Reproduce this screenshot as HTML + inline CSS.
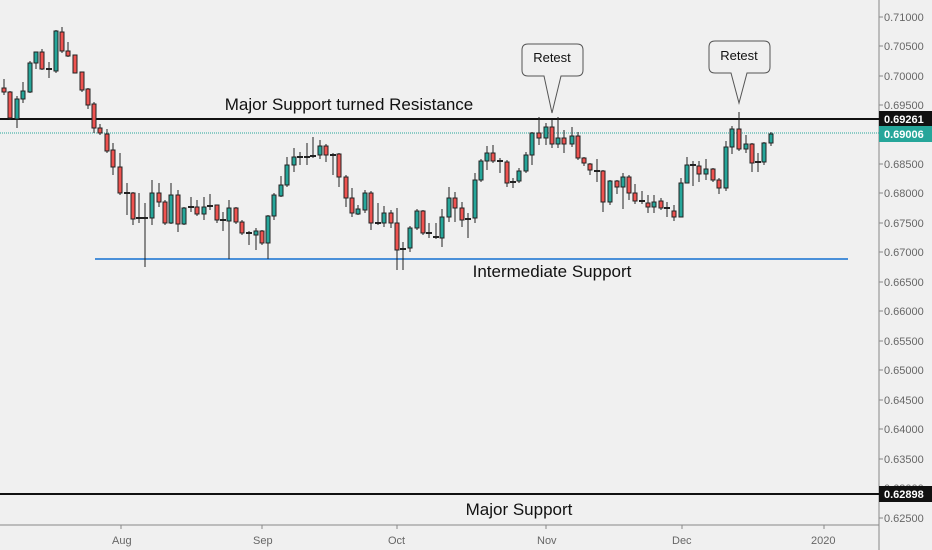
<!DOCTYPE html>
<html><head><meta charset="utf-8"><style>
body{margin:0;background:#f0f0f0;}
svg{display:block;font-family:"Liberation Sans",sans-serif;}
.w{stroke:#222;stroke-width:1}
.g{fill:#26a69a;stroke:#222;stroke-width:1}
.r{fill:#ef5350;stroke:#222;stroke-width:1}
.d{fill:#222}
.ax{fill:#666;font-size:11px}
</style></head><body>
<svg width="932" height="550" viewBox="0 0 932 550">
<rect width="932" height="550" fill="#f0f0f0"/>
<!-- axes -->
<line x1="879" y1="0" x2="879" y2="550" stroke="#888"/>
<line x1="0" y1="525" x2="879" y2="525" stroke="#888"/>
<g class="ax">
<text x="884" y="21">0.71000</text><text x="884" y="50">0.70500</text><text x="884" y="80">0.70000</text><text x="884" y="109">0.69500</text>
<text x="884" y="168">0.68500</text><text x="884" y="197">0.68000</text><text x="884" y="227">0.67500</text><text x="884" y="256">0.67000</text>
<text x="884" y="286">0.66500</text><text x="884" y="315">0.66000</text><text x="884" y="345">0.65500</text><text x="884" y="374">0.65000</text>
<text x="884" y="404">0.64500</text><text x="884" y="433">0.64000</text><text x="884" y="463">0.63500</text><text x="884" y="492">0.63000</text>
<text x="884" y="522">0.62500</text>
<text x="112" y="544">Aug</text><text x="253" y="544">Sep</text><text x="388" y="544">Oct</text><text x="537" y="544">Nov</text><text x="672" y="544">Dec</text><text x="811" y="544">2020</text>
</g>
<g stroke="#888">
<line x1="879" y1="17" x2="883" y2="17"/><line x1="879" y1="46" x2="883" y2="46"/><line x1="879" y1="76" x2="883" y2="76"/><line x1="879" y1="105" x2="883" y2="105"/><line x1="879" y1="164" x2="883" y2="164"/><line x1="879" y1="193" x2="883" y2="193"/><line x1="879" y1="223" x2="883" y2="223"/><line x1="879" y1="252" x2="883" y2="252"/><line x1="879" y1="282" x2="883" y2="282"/><line x1="879" y1="311" x2="883" y2="311"/><line x1="879" y1="341" x2="883" y2="341"/><line x1="879" y1="370" x2="883" y2="370"/><line x1="879" y1="400" x2="883" y2="400"/><line x1="879" y1="429" x2="883" y2="429"/><line x1="879" y1="459" x2="883" y2="459"/><line x1="879" y1="488" x2="883" y2="488"/><line x1="879" y1="518" x2="883" y2="518"/>
<line x1="121" y1="525" x2="121" y2="529"/><line x1="262" y1="525" x2="262" y2="529"/><line x1="397" y1="525" x2="397" y2="529"/><line x1="546" y1="525" x2="546" y2="529"/><line x1="682" y1="525" x2="682" y2="529"/><line x1="824" y1="525" x2="824" y2="529"/>
</g>
<!-- levels -->
<line x1="0" y1="133" x2="879" y2="133" stroke="#26a69a" stroke-width="1" stroke-dasharray="1,1"/>
<line x1="0" y1="119" x2="879" y2="119" stroke="#111" stroke-width="2"/>
<line x1="95" y1="259" x2="848" y2="259" stroke="#4a90d9" stroke-width="2"/>
<line x1="0" y1="494" x2="879" y2="494" stroke="#111" stroke-width="2"/>
<rect x="879" y="111" width="53" height="16" fill="#111"/><text x="884" y="123" fill="#fff" font-size="11" font-weight="bold">0.69261</text>
<rect x="879" y="126" width="53" height="16" fill="#26a69a"/><text x="884" y="138" fill="#fff" font-size="11" font-weight="bold">0.69006</text>
<rect x="879" y="486" width="53" height="16" fill="#111"/><text x="884" y="498" fill="#fff" font-size="11" font-weight="bold">0.62898</text>
<!-- text -->
<text x="349" y="110" font-size="17" text-anchor="middle" fill="#111">Major Support turned Resistance</text>
<text x="552" y="277" font-size="17" text-anchor="middle" fill="#111">Intermediate Support</text>
<text x="519" y="515" font-size="17" text-anchor="middle" fill="#111">Major Support</text>
<!-- callouts -->
<path d="M528,44 H577 Q583,44 583,50 V70 Q583,76 577,76 H561 L552,113 L544,76 H528 Q522,76 522,70 V50 Q522,44 528,44 Z" fill="#f0f0f0" stroke="#555"/>
<text x="552" y="62" font-size="13" text-anchor="middle" fill="#111">Retest</text>
<path d="M715,41 H764 Q770,41 770,47 V67 Q770,73 764,73 H747 L739,103 L731,73 H715 Q709,73 709,67 V47 Q709,41 715,41 Z" fill="#f0f0f0" stroke="#555"/>
<text x="739" y="60" font-size="13" text-anchor="middle" fill="#111">Retest</text>
<!-- candles -->
<g>
<line class="w" x1="4" y1="79" x2="4" y2="95"/><rect class="r" x="2" y="88" width="4" height="4"/>
<line class="w" x1="10" y1="91" x2="10" y2="120"/><rect class="r" x="8" y="92" width="4" height="26"/>
<line class="w" x1="17" y1="96" x2="17" y2="128"/><rect class="g" x="15" y="99" width="4" height="20"/>
<line class="w" x1="23" y1="82" x2="23" y2="103"/><rect class="g" x="21" y="91" width="4" height="8"/>
<line class="w" x1="30" y1="61" x2="30" y2="93"/><rect class="g" x="28" y="63" width="4" height="29"/>
<line class="w" x1="36" y1="52" x2="36" y2="69"/><rect class="g" x="34" y="52" width="4" height="11"/>
<line class="w" x1="42" y1="49" x2="42" y2="70"/><rect class="r" x="40" y="52" width="4" height="17"/>
<line class="w" x1="49" y1="62" x2="49" y2="78"/><rect class="d" x="46" y="68" width="6" height="2"/>
<line class="w" x1="56" y1="30" x2="56" y2="73"/><rect class="g" x="54" y="31" width="4" height="40"/>
<line class="w" x1="62" y1="27" x2="62" y2="53"/><rect class="r" x="60" y="32" width="4" height="19"/>
<line class="w" x1="68" y1="42" x2="68" y2="57"/><rect class="r" x="66" y="51" width="4" height="5"/>
<line class="w" x1="75" y1="55" x2="75" y2="73"/><rect class="r" x="73" y="55" width="4" height="18"/>
<line class="w" x1="82" y1="72" x2="82" y2="92"/><rect class="r" x="80" y="72" width="4" height="18"/>
<line class="w" x1="88" y1="88" x2="88" y2="109"/><rect class="r" x="86" y="89" width="4" height="16"/>
<line class="w" x1="94" y1="102" x2="94" y2="133"/><rect class="r" x="92" y="104" width="4" height="24"/>
<line class="w" x1="100" y1="124" x2="100" y2="135"/><rect class="r" x="98" y="128" width="4" height="5"/>
<line class="w" x1="107" y1="129" x2="107" y2="153"/><rect class="r" x="105" y="134" width="4" height="17"/>
<line class="w" x1="113" y1="143" x2="113" y2="175"/><rect class="r" x="111" y="150" width="4" height="17"/>
<line class="w" x1="120" y1="153" x2="120" y2="195"/><rect class="r" x="118" y="167" width="4" height="26"/>
<line class="w" x1="127" y1="183" x2="127" y2="215"/><rect class="d" x="124" y="192" width="6" height="2"/>
<line class="w" x1="133" y1="192" x2="133" y2="225"/><rect class="r" x="131" y="193" width="4" height="26"/>
<line class="w" x1="139" y1="193" x2="139" y2="223"/><rect class="d" x="136" y="217" width="6" height="2"/>
<line class="w" x1="145" y1="203" x2="145" y2="267"/><rect class="d" x="142" y="217" width="6" height="2"/>
<line class="w" x1="152" y1="180" x2="152" y2="225"/><rect class="g" x="150" y="193" width="4" height="25"/>
<line class="w" x1="159" y1="183" x2="159" y2="207"/><rect class="r" x="157" y="193" width="4" height="9"/>
<line class="w" x1="165" y1="200" x2="165" y2="225"/><rect class="r" x="163" y="202" width="4" height="21"/>
<line class="w" x1="171" y1="183" x2="171" y2="224"/><rect class="g" x="169" y="195" width="4" height="28"/>
<line class="w" x1="178" y1="190" x2="178" y2="232"/><rect class="r" x="176" y="195" width="4" height="29"/>
<line class="w" x1="184" y1="207" x2="184" y2="225"/><rect class="g" x="182" y="208" width="4" height="16"/>
<line class="w" x1="191" y1="197" x2="191" y2="212"/><rect class="d" x="188" y="206" width="6" height="2"/>
<line class="w" x1="197" y1="200" x2="197" y2="216"/><rect class="r" x="195" y="207" width="4" height="7"/>
<line class="w" x1="204" y1="197" x2="204" y2="220"/><rect class="g" x="202" y="207" width="4" height="7"/>
<line class="w" x1="210" y1="194" x2="210" y2="210"/><rect class="d" x="207" y="205" width="6" height="2"/>
<line class="w" x1="217" y1="205" x2="217" y2="223"/><rect class="r" x="215" y="205" width="4" height="15"/>
<line class="w" x1="223" y1="212" x2="223" y2="231"/><rect class="d" x="220" y="219" width="6" height="2"/>
<line class="w" x1="229" y1="200" x2="229" y2="259"/><rect class="g" x="227" y="208" width="4" height="13"/>
<line class="w" x1="236" y1="207" x2="236" y2="224"/><rect class="r" x="234" y="208" width="4" height="14"/>
<line class="w" x1="242" y1="220" x2="242" y2="235"/><rect class="r" x="240" y="222" width="4" height="11"/>
<line class="w" x1="249" y1="231" x2="249" y2="245"/><rect class="d" x="246" y="232" width="6" height="2"/>
<line class="w" x1="256" y1="228" x2="256" y2="250"/><rect class="g" x="254" y="231" width="4" height="4"/>
<line class="w" x1="262" y1="230" x2="262" y2="245"/><rect class="r" x="260" y="231" width="4" height="12"/>
<line class="w" x1="268" y1="215" x2="268" y2="259"/><rect class="g" x="266" y="216" width="4" height="27"/>
<line class="w" x1="274" y1="193" x2="274" y2="220"/><rect class="g" x="272" y="195" width="4" height="21"/>
<line class="w" x1="281" y1="176" x2="281" y2="197"/><rect class="g" x="279" y="185" width="4" height="11"/>
<line class="w" x1="287" y1="157" x2="287" y2="187"/><rect class="g" x="285" y="165" width="4" height="20"/>
<line class="w" x1="294" y1="148" x2="294" y2="172"/><rect class="g" x="292" y="157" width="4" height="8"/>
<line class="w" x1="300" y1="152" x2="300" y2="165"/><rect class="d" x="297" y="156" width="6" height="2"/>
<line class="w" x1="307" y1="143" x2="307" y2="165"/><rect class="d" x="304" y="156" width="6" height="2"/>
<line class="w" x1="313" y1="137" x2="313" y2="158"/><rect class="d" x="310" y="155" width="6" height="2"/>
<line class="w" x1="320" y1="140" x2="320" y2="159"/><rect class="g" x="318" y="146" width="4" height="9"/>
<line class="w" x1="326" y1="144" x2="326" y2="162"/><rect class="r" x="324" y="146" width="4" height="9"/>
<line class="w" x1="333" y1="153" x2="333" y2="175"/><rect class="d" x="330" y="154" width="6" height="2"/>
<line class="w" x1="339" y1="153" x2="339" y2="187"/><rect class="r" x="337" y="154" width="4" height="23"/>
<line class="w" x1="346" y1="175" x2="346" y2="207"/><rect class="r" x="344" y="177" width="4" height="21"/>
<line class="w" x1="352" y1="188" x2="352" y2="217"/><rect class="r" x="350" y="198" width="4" height="15"/>
<line class="w" x1="358" y1="205" x2="358" y2="215"/><rect class="g" x="356" y="209" width="4" height="5"/>
<line class="w" x1="365" y1="190" x2="365" y2="213"/><rect class="g" x="363" y="193" width="4" height="17"/>
<line class="w" x1="371" y1="191" x2="371" y2="230"/><rect class="r" x="369" y="193" width="4" height="30"/>
<line class="w" x1="378" y1="203" x2="378" y2="225"/><rect class="d" x="375" y="222" width="6" height="2"/>
<line class="w" x1="384" y1="206" x2="384" y2="227"/><rect class="g" x="382" y="213" width="4" height="10"/>
<line class="w" x1="391" y1="210" x2="391" y2="228"/><rect class="r" x="389" y="213" width="4" height="10"/>
<line class="w" x1="397" y1="208" x2="397" y2="270"/><rect class="r" x="395" y="223" width="4" height="27"/>
<line class="w" x1="403" y1="242" x2="403" y2="270"/><rect class="d" x="400" y="248" width="6" height="2"/>
<line class="w" x1="410" y1="226" x2="410" y2="252"/><rect class="g" x="408" y="228" width="4" height="20"/>
<line class="w" x1="417" y1="209" x2="417" y2="230"/><rect class="g" x="415" y="211" width="4" height="17"/>
<line class="w" x1="423" y1="210" x2="423" y2="235"/><rect class="r" x="421" y="211" width="4" height="22"/>
<line class="w" x1="429" y1="223" x2="429" y2="238"/><rect class="d" x="426" y="232" width="6" height="2"/>
<line class="w" x1="436" y1="223" x2="436" y2="239"/><rect class="d" x="433" y="236" width="6" height="2"/>
<line class="w" x1="442" y1="209" x2="442" y2="247"/><rect class="g" x="440" y="217" width="4" height="21"/>
<line class="w" x1="449" y1="187" x2="449" y2="222"/><rect class="g" x="447" y="198" width="4" height="19"/>
<line class="w" x1="455" y1="192" x2="455" y2="222"/><rect class="r" x="453" y="198" width="4" height="10"/>
<line class="w" x1="462" y1="202" x2="462" y2="227"/><rect class="r" x="460" y="208" width="4" height="12"/>
<line class="w" x1="468" y1="213" x2="468" y2="238"/><rect class="d" x="465" y="218" width="6" height="2"/>
<line class="w" x1="475" y1="173" x2="475" y2="223"/><rect class="g" x="473" y="180" width="4" height="38"/>
<line class="w" x1="481" y1="159" x2="481" y2="182"/><rect class="g" x="479" y="161" width="4" height="19"/>
<line class="w" x1="487" y1="146" x2="487" y2="170"/><rect class="g" x="485" y="153" width="4" height="8"/>
<line class="w" x1="493" y1="145" x2="493" y2="163"/><rect class="r" x="491" y="153" width="4" height="8"/>
<line class="w" x1="500" y1="158" x2="500" y2="173"/><rect class="d" x="497" y="160" width="6" height="2"/>
<line class="w" x1="507" y1="160" x2="507" y2="187"/><rect class="r" x="505" y="162" width="4" height="21"/>
<line class="w" x1="513" y1="178" x2="513" y2="188"/><rect class="d" x="510" y="181" width="6" height="2"/>
<line class="w" x1="519" y1="168" x2="519" y2="183"/><rect class="g" x="517" y="171" width="4" height="10"/>
<line class="w" x1="526" y1="152" x2="526" y2="173"/><rect class="g" x="524" y="155" width="4" height="16"/>
<line class="w" x1="532" y1="132" x2="532" y2="165"/><rect class="g" x="530" y="133" width="4" height="22"/>
<line class="w" x1="539" y1="117" x2="539" y2="145"/><rect class="r" x="537" y="133" width="4" height="5"/>
<line class="w" x1="546" y1="123" x2="546" y2="145"/><rect class="g" x="544" y="127" width="4" height="11"/>
<line class="w" x1="552" y1="120" x2="552" y2="148"/><rect class="r" x="550" y="127" width="4" height="17"/>
<line class="w" x1="558" y1="117" x2="558" y2="148"/><rect class="g" x="556" y="138" width="4" height="6"/>
<line class="w" x1="564" y1="130" x2="564" y2="153"/><rect class="r" x="562" y="138" width="4" height="6"/>
<line class="w" x1="572" y1="127" x2="572" y2="147"/><rect class="g" x="570" y="136" width="4" height="8"/>
<line class="w" x1="578" y1="132" x2="578" y2="160"/><rect class="r" x="576" y="136" width="4" height="22"/>
<line class="w" x1="584" y1="157" x2="584" y2="166"/><rect class="r" x="582" y="158" width="4" height="5"/>
<line class="w" x1="590" y1="163" x2="590" y2="175"/><rect class="r" x="588" y="164" width="4" height="6"/>
<line class="w" x1="597" y1="159" x2="597" y2="182"/><rect class="d" x="594" y="170" width="6" height="2"/>
<line class="w" x1="603" y1="170" x2="603" y2="212"/><rect class="r" x="601" y="171" width="4" height="31"/>
<line class="w" x1="610" y1="180" x2="610" y2="205"/><rect class="g" x="608" y="181" width="4" height="21"/>
<line class="w" x1="617" y1="180" x2="617" y2="194"/><rect class="r" x="615" y="181" width="4" height="6"/>
<line class="w" x1="623" y1="173" x2="623" y2="209"/><rect class="g" x="621" y="177" width="4" height="10"/>
<line class="w" x1="629" y1="175" x2="629" y2="200"/><rect class="r" x="627" y="177" width="4" height="16"/>
<line class="w" x1="635" y1="184" x2="635" y2="204"/><rect class="r" x="633" y="193" width="4" height="8"/>
<line class="w" x1="642" y1="191" x2="642" y2="204"/><rect class="d" x="639" y="200" width="6" height="2"/>
<line class="w" x1="648" y1="195" x2="648" y2="213"/><rect class="r" x="646" y="203" width="4" height="4"/>
<line class="w" x1="654" y1="195" x2="654" y2="213"/><rect class="g" x="652" y="202" width="4" height="5"/>
<line class="w" x1="661" y1="198" x2="661" y2="210"/><rect class="r" x="659" y="201" width="4" height="7"/>
<line class="w" x1="667" y1="202" x2="667" y2="217"/><rect class="d" x="664" y="207" width="6" height="2"/>
<line class="w" x1="674" y1="205" x2="674" y2="221"/><rect class="r" x="672" y="211" width="4" height="6"/>
<line class="w" x1="681" y1="178" x2="681" y2="217"/><rect class="g" x="679" y="183" width="4" height="34"/>
<line class="w" x1="687" y1="157" x2="687" y2="183"/><rect class="g" x="685" y="165" width="4" height="18"/>
<line class="w" x1="693" y1="161" x2="693" y2="186"/><rect class="d" x="690" y="164" width="6" height="2"/>
<line class="w" x1="699" y1="161" x2="699" y2="182"/><rect class="r" x="697" y="166" width="4" height="8"/>
<line class="w" x1="706" y1="159" x2="706" y2="180"/><rect class="g" x="704" y="169" width="4" height="5"/>
<line class="w" x1="713" y1="168" x2="713" y2="182"/><rect class="r" x="711" y="169" width="4" height="11"/>
<line class="w" x1="719" y1="178" x2="719" y2="194"/><rect class="r" x="717" y="180" width="4" height="8"/>
<line class="w" x1="726" y1="141" x2="726" y2="191"/><rect class="g" x="724" y="147" width="4" height="41"/>
<line class="w" x1="732" y1="126" x2="732" y2="154"/><rect class="g" x="730" y="129" width="4" height="18"/>
<line class="w" x1="739" y1="112" x2="739" y2="151"/><rect class="r" x="737" y="129" width="4" height="20"/>
<line class="w" x1="746" y1="135" x2="746" y2="153"/><rect class="g" x="744" y="144" width="4" height="5"/>
<line class="w" x1="752" y1="143" x2="752" y2="172"/><rect class="r" x="750" y="144" width="4" height="19"/>
<line class="w" x1="758" y1="153" x2="758" y2="172"/><rect class="d" x="755" y="161" width="6" height="2"/>
<line class="w" x1="764" y1="142" x2="764" y2="165"/><rect class="g" x="762" y="143" width="4" height="19"/>
<line class="w" x1="771" y1="132" x2="771" y2="146"/><rect class="g" x="769" y="134" width="4" height="9"/>
</g>
</svg>
</body></html>
